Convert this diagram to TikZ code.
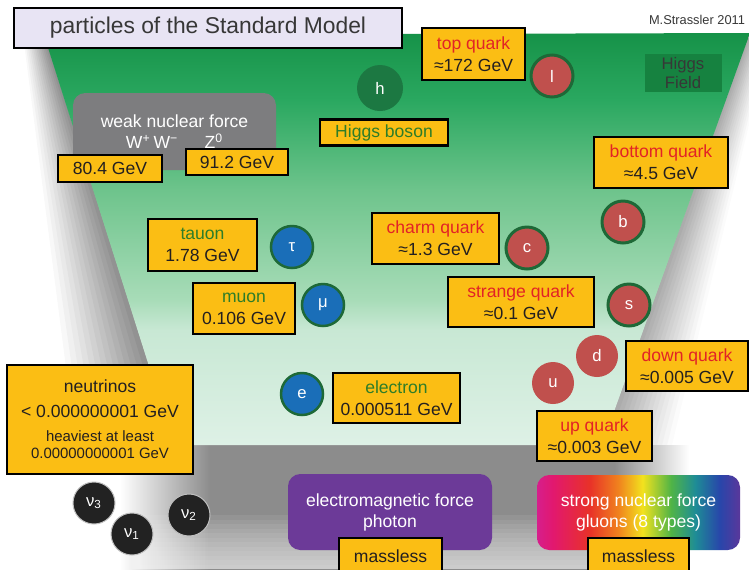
\documentclass[tikz,border=0pt]{standalone}
\usepackage{fontspec}
\setmainfont{Liberation Sans}
\usetikzlibrary{positioning}

\newlength{\px}
\setlength{\px}{0.02cm}

\definecolor{boxyellow}{RGB}{251,190,20}
\definecolor{quarkred}{RGB}{192,80,77}
\definecolor{leptonblue}{RGB}{26,110,184}
\definecolor{ringgreen}{RGB}{30,105,55}
\definecolor{higgsgreen}{RGB}{28,120,66}
\definecolor{fieldgreen}{RGB}{22,130,64}
\definecolor{labelred}{RGB}{226,35,38}
\definecolor{labelgreen}{RGB}{46,125,40}
\definecolor{weakgray}{RGB}{125,125,127}
\definecolor{emviolet}{RGB}{108,58,152}
\definecolor{titlelilac}{RGB}{232,228,244}
\definecolor{nublack}{RGB}{34,34,34}
\definecolor{inkblack}{RGB}{35,31,32}
\definecolor{inkgray}{RGB}{55,55,55}

\pgfdeclareverticalshading{floor}{100bp}{color(0bp)=(rgb,255:red,222;green,241;blue,230); color(25bp)=(rgb,255:red,222;green,241;blue,230); color(39bp)=(rgb,255:red,200;green,232;blue,212); color(42.6bp)=(rgb,255:red,168;green,220;blue,184); color(55.9bp)=(rgb,255:red,110;green,196;blue,140); color(66.9bp)=(rgb,255:red,42;green,168;blue,96); color(75bp)=(rgb,255:red,22;green,146;blue,72); color(100bp)=(rgb,255:red,22;green,146;blue,72)}
\pgfdeclarehorizontalshading{bandshade}{100bp}{color(0bp)=(white); color(33bp)=(white); color(39bp)=(black!45); color(66bp)=(black!45); color(71bp)=(white); color(100bp)=(white)}
\pgfdeclarehorizontalshading{rainbow}{100bp}{color(0bp)=(rgb,255:red,214;green,30;blue,140); color(25bp)=(rgb,255:red,214;green,30;blue,140); color(29bp)=(rgb,255:red,226;green,24;blue,110); color(38bp)=(rgb,255:red,232;green,50;blue,40); color(45bp)=(rgb,255:red,240;green,130;blue,30); color(51bp)=(rgb,255:red,242;green,226;blue,30); color(58bp)=(rgb,255:red,80;green,180;blue,70); color(64bp)=(rgb,255:red,30;green,140;blue,150); color(70bp)=(rgb,255:red,40;green,70;blue,170); color(75bp)=(rgb,255:red,90;green,55;blue,155); color(100bp)=(rgb,255:red,90;green,55;blue,155)}

\tikzstyle{titlebox} = [rectangle, draw=black, line width=2\px, fill=titlelilac, text=inkgray, font=\fontsize{13}{15}\selectfont]
\tikzstyle{massbox} = [rectangle, draw=black, line width=2.2\px, fill=boxyellow, text=inkblack, align=center, inner sep=0pt, font=\fontsize{10}{12.5}\selectfont]
\tikzstyle{forcebox} = [rectangle, rounded corners=7pt, text=white, align=center, inner sep=0pt, font=\fontsize{10}{12}\selectfont]
\tikzstyle{particle} = [circle, minimum size=42\px, inner sep=0pt, text=white, font=\fontsize{9.5}{11}\selectfont]
\tikzstyle{quark} = [particle, fill=quarkred]
\tikzstyle{quarkring} = [quark, draw=ringgreen, line width=3\px]
\tikzstyle{lepton} = [particle, fill=leptonblue, draw=ringgreen, line width=2.5\px]
\tikzstyle{neutrino} = [particle, fill=nublack, draw=gray!50, line width=1\px]
\tikzstyle{boson} = [particle, fill=higgsgreen, minimum size=46\px]

\begin{document}
\begin{tikzpicture}[x=0.02cm, y=-0.02cm, node distance=1cm]
\useasboundingbox (0,0) rectangle (749,569);
% walls, floor and front band
\foreach \k [evaluate=\k as \g using 46-3.1*\k] in {14,...,0}
  \fill[black!\g] ({44-1.5*\k},35) -- (44,35) -- (174,445) -- ({174-7*\k},445) -- cycle;
\foreach \k [evaluate=\k as \g using 35-2.4*\k] in {14,...,0}
  \fill[black!\g] ({750+1.5*\k},33) -- (750,33) -- (602,445) -- ({602+5*\k},445) -- cycle;
\shade[shading=bandshade] (0,445) rectangle (749,569);
\foreach \k in {0,...,11}
  \fill[white, opacity=0.07] (0,{515+4.5*\k}) rectangle (749,569);
\shade[shading=floor] (44,35) -- (750,33) -- (602,445) -- (174,445) -- cycle;

\node (title) [titlebox, minimum width=388\px, minimum height=40\px] at (208,28) {particles of the Standard Model};
\node (credit) [text=inkgray, font=\fontsize{7.3}{9}\selectfont] at (697,20) {M.Strassler 2011};
\node (field) [rectangle, fill=fieldgreen, minimum width=77\px, minimum height=38\px, align=center, inner sep=0pt, text=inkgray, font=\fontsize{9.5}{11}\selectfont] at (683,73) {Higgs\\Field};

% forces
\node (weak) [forcebox, fill=weakgray, minimum width=203\px, minimum height=77\px] at (174.5,131.5) {weak nuclear force\\W\textsuperscript{+}\,W\textsuperscript{−}\hspace{15pt}Z\textsuperscript{0}};
\node (mW) [massbox, minimum width=104\px, minimum height=27\px] at (110,168.5) {80.4 GeV};
\node (mZ) [massbox, minimum width=102\px, minimum height=26\px] at (237,162) {91.2 GeV};
\node (em) [forcebox, fill=emviolet, minimum width=204\px, minimum height=76\px] at (390,512) {electromagnetic force\\photon};
\node (mphoton) [massbox, minimum width=103\px, minimum height=36\px] at (390.5,556) {massless};
\node (strong) [forcebox, shading=rainbow, minimum width=203\px, minimum height=75\px] at (638.5,512.5) {strong nuclear force\\gluons (8 types)};
\node (mgluon) [massbox, minimum width=101\px, minimum height=36\px] at (638.5,556) {massless};

% higgs
\node (higgs) [boson] at (380,88) {h};
\node (higgsname) [massbox, minimum width=128\px, minimum height=26\px, below=7\px of higgs, xshift=4\px] {\textcolor{labelgreen}{Higgs boson}};

% quarks
\node (top) [massbox, minimum width=103\px, minimum height=52\px] at (473.5,54) {\textcolor{labelred}{top quark}\\≈172 GeV};
\node (t) [quarkring] at (552,76) {l};
\node (bottom) [massbox, minimum width=134\px, minimum height=51\px] at (661,162.5) {\textcolor{labelred}{bottom quark}\\≈4.5 GeV};
\node (b) [quarkring] at (623,222) {b};
\node (charm) [massbox, minimum width=127\px, minimum height=51\px] at (435.5,238.5) {\textcolor{labelred}{charm quark}\\≈1.3 GeV};
\node (c) [quarkring, right of=charm, xshift=41.5\px, yshift=-9.5\px] {c};
\node (strange) [massbox, minimum width=146\px, minimum height=50\px] at (521,302) {\textcolor{labelred}{strange quark}\\≈0.1 GeV};
\node (s) [quarkring, right of=strange, xshift=58\px, yshift=-3\px] {s};
\node (d) [quark] at (597,356) {d};
\node (down) [massbox, minimum width=122\px, minimum height=50\px] at (687,366) {\textcolor{labelred}{down quark}\\≈0.005 GeV};
\node (u) [quark] at (553,383) {u};
\node (up) [massbox, minimum width=115\px, minimum height=50\px] at (594.5,436) {\textcolor{labelred}{up quark}\\≈0.003 GeV};

% leptons
\node (tauon) [massbox, minimum width=109\px, minimum height=52\px] at (202.5,245) {\textcolor{labelgreen}{tauon}\\1.78 GeV};
\node (tau) [lepton, right of=tauon, xshift=39.5\px, yshift=-2\px] {τ};
\node (muon) [massbox, minimum width=102\px, minimum height=51\px] at (244,308.5) {\textcolor{labelgreen}{muon}\\0.106 GeV};
\node (mu) [lepton, right of=muon, xshift=29\px, yshift=3.5\px] {μ};
\node (electron) [massbox, minimum width=127\px, minimum height=50\px] at (396.5,398) {\textcolor{labelgreen}{electron}\\0.000511 GeV};
\node (e) [lepton, left of=electron, xshift=-44.5\px, yshift=4\px] {e};

% neutrinos
\node (neutrinos) [massbox, minimum width=186\px, minimum height=109\px, font=\fontsize{10}{14}\selectfont] at (100,419.5) {neutrinos\\\textless{} 0.000000001 GeV\\\fontsize{8.5}{10}\selectfont heaviest at least\\[-4.4pt]\fontsize{8.5}{10}\selectfont 0.00000000001 GeV};
\node (nu3) [neutrino] at (94,503) {ν\textsubscript{3}};
\node (nu1) [neutrino] at (132,534) {ν\textsubscript{1}};
\node (nu2) [neutrino] at (189,515) {ν\textsubscript{2}};
\end{tikzpicture}
\end{document}
